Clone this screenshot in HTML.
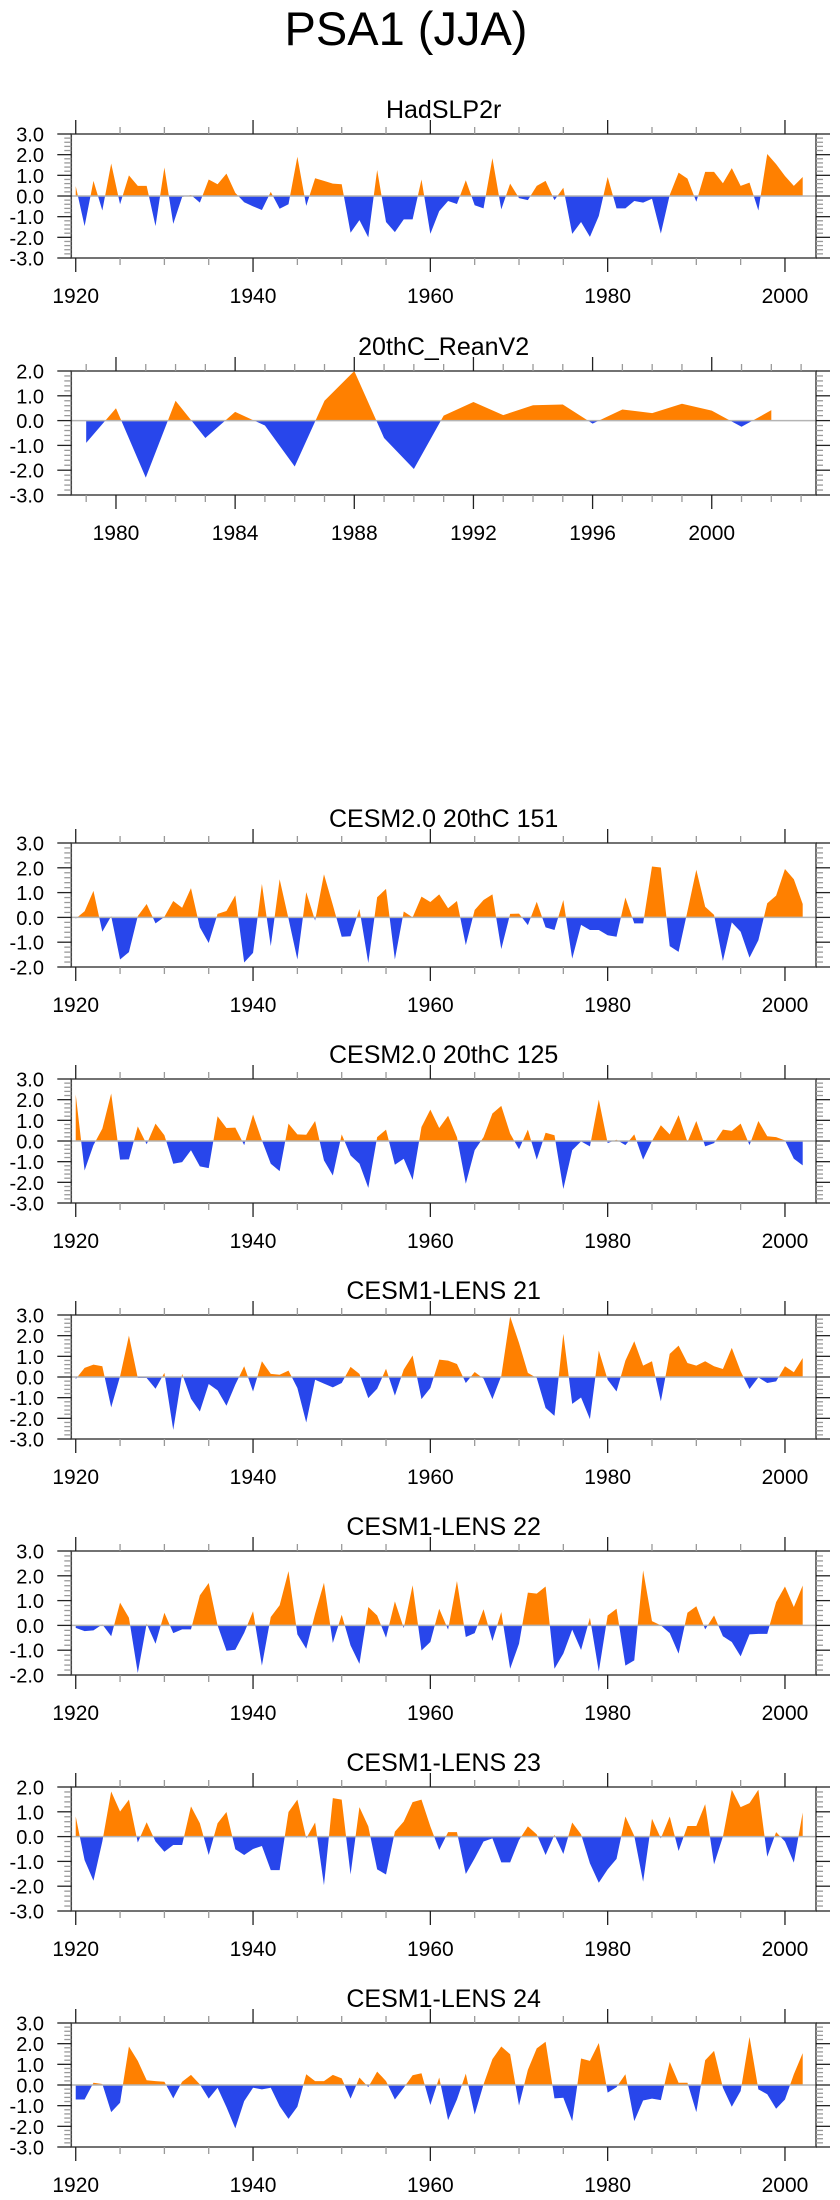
<!DOCTYPE html>
<html>
<head>
<meta charset="utf-8">
<style>
  html, body { margin: 0; padding: 0; background: #fff; }
  body { width: 840px; height: 2200px; overflow: hidden; }
  svg { display: block; }
  text { font-family: "Liberation Sans", sans-serif; fill: #000; }
</style>
</head>
<body>
<svg id="chart" width="840" height="2200" viewBox="0 0 840 2200" xmlns="http://www.w3.org/2000/svg">
  <rect x="0" y="0" width="840" height="2200" fill="#fff"/>
  <text x="406" y="45" font-size="47" text-anchor="middle">PSA1 (JJA)</text>
</svg>
<script>
// ---- categories ----
const yearsLong = [];
for (let y = 1920; y <= 2002; y++) yearsLong.push(y);
const yearsShort = [];
for (let y = 1979; y <= 2002; y++) yearsShort.push(y);

// ---- tick labels ----
const xLabelsLong = [1920, 1940, 1960, 1980, 2000];
const xLabelsShort = [1980, 1984, 1988, 1992, 1996, 2000];
const yTicks33 = [-3, -2, -1, 0, 1, 2, 3];
const yTicks32 = [-3, -2, -1, 0, 1, 2];
const yTicks23 = [-2, -1, 0, 1, 2, 3];

// ---- series values ----
const hadslp2r = [0.48,-1.46,0.73,-0.7,1.57,-0.4,1.0,0.49,0.49,-1.46,1.38,-1.35,-0.05,0.05,-0.32,0.8,0.57,1.08,0.15,-0.3,-0.5,-0.68,0.2,-0.62,-0.4,1.9,-0.48,0.86,0.73,0.6,0.57,-1.78,-1.17,-2.0,1.26,-1.26,-1.75,-1.13,-1.13,0.8,-1.83,-0.73,-0.24,-0.39,0.76,-0.45,-0.6,1.83,-0.65,0.6,-0.1,-0.2,0.49,0.73,-0.2,0.4,-1.83,-1.26,-1.98,-0.97,0.92,-0.6,-0.6,-0.24,-0.32,-0.13,-1.82,0.05,1.13,0.84,-0.28,1.17,1.17,0.62,1.35,0.49,0.65,-0.7,2.03,1.54,0.97,0.49,0.92];
const reanV2 = [-0.9,0.5,-2.3,0.8,-0.7,0.35,-0.2,-1.85,0.8,2.0,-0.7,-1.95,0.2,0.75,0.22,0.62,0.65,-0.12,0.45,0.3,0.68,0.4,-0.25,0.42];
const cesm2_151 = [-0.05,0.25,1.07,-0.58,0.05,-1.7,-1.4,0.05,0.54,-0.24,0.02,0.66,0.39,1.18,-0.4,-1.03,0.14,0.26,0.89,-1.82,-1.43,1.35,-1.16,1.54,-0.05,-1.7,1.02,-0.13,1.74,0.5,-0.78,-0.76,0.34,-1.84,0.81,1.15,-1.7,0.24,0.0,0.84,0.62,0.93,0.37,0.66,-1.12,0.3,0.7,0.93,-1.28,0.14,0.15,-0.31,0.63,-0.4,-0.51,0.7,-1.66,-0.3,-0.51,-0.51,-0.72,-0.78,0.8,-0.24,-0.24,2.05,2.01,-1.16,-1.39,0.25,1.92,0.43,0.1,-1.76,-0.2,-0.58,-1.62,-0.92,0.57,0.88,1.95,1.54,0.54];
const cesm2_125 = [2.25,-1.43,-0.2,0.6,2.3,-0.9,-0.89,0.71,-0.16,0.84,0.28,-1.1,-1.02,-0.45,-1.23,-1.31,1.2,0.63,0.65,-0.2,1.28,0.03,-1.1,-1.46,0.84,0.32,0.3,0.97,-0.94,-1.67,0.32,-0.7,-1.1,-2.27,0.19,0.55,-1.15,-0.86,-1.88,0.68,1.52,0.63,1.22,0.19,-2.07,-0.45,0.19,1.33,1.7,0.36,-0.4,0.55,-0.9,0.4,0.28,-2.32,-0.45,-0.02,-0.26,2.0,-0.1,0.06,-0.2,0.32,-0.9,0.0,0.76,0.32,1.25,-0.05,0.97,-0.26,-0.1,0.55,0.49,0.84,-0.2,0.97,0.23,0.19,0.03,-0.86,-1.18];
const lens21 = [-0.1,0.44,0.6,0.52,-1.47,0.03,2.0,-0.05,-0.05,-0.57,0.2,-2.56,0.15,-1.05,-1.67,-0.34,-0.65,-1.39,-0.37,0.52,-0.7,0.76,0.15,0.11,0.31,-0.53,-2.2,-0.13,-0.32,-0.5,-0.29,0.49,0.15,-1.02,-0.57,0.4,-0.9,0.36,1.04,-1.07,-0.53,0.84,0.79,0.63,-0.29,0.24,-0.08,-1.07,0.05,2.93,1.65,0.2,-0.05,-1.5,-1.88,2.09,-1.3,-0.99,-2.04,1.28,-0.13,-0.7,0.79,1.73,0.55,0.76,-1.18,1.12,1.52,0.68,0.55,0.76,0.52,0.39,1.41,0.28,-0.58,-0.02,-0.29,-0.21,0.52,0.23,0.92];
const lens22 = [-0.1,-0.23,-0.2,0.04,-0.44,0.92,0.31,-1.92,0.07,-0.74,0.51,-0.31,-0.16,-0.16,1.21,1.71,0.0,-1.02,-0.98,-0.3,0.57,-1.62,0.34,0.81,2.19,-0.36,-0.94,0.47,1.72,-0.71,0.43,-0.81,-1.55,0.74,0.4,-0.5,0.97,-0.11,1.62,-1.01,-0.67,0.67,-0.17,1.79,-0.47,-0.31,0.65,-0.63,0.54,-1.75,-0.74,1.32,1.28,1.57,-1.75,-1.14,-0.17,-0.99,0.31,-1.86,0.4,0.67,-1.62,-1.41,2.22,0.17,0.0,-0.31,-1.14,0.51,0.77,-0.16,0.4,-0.44,-0.67,-1.25,-0.36,-0.34,-0.34,0.94,1.57,0.74,1.61];
const lens23 = [0.81,-0.95,-1.78,-0.2,1.82,1.01,1.49,-0.24,0.58,-0.2,-0.61,-0.34,-0.34,1.22,0.54,-0.74,0.54,0.99,-0.51,-0.74,-0.5,-0.38,-1.35,-1.35,0.99,1.49,-0.07,0.57,-1.96,1.55,1.49,-1.53,1.19,0.41,-1.32,-1.53,0.2,0.61,1.39,1.49,0.41,-0.54,0.18,0.18,-1.51,-0.88,-0.2,-0.07,-1.04,-1.04,-0.14,0.41,0.09,-0.74,0.07,-0.7,0.57,0.09,-1.08,-1.86,-1.32,-0.9,0.81,0.03,-1.82,0.72,-0.07,0.81,-0.58,0.43,0.43,1.31,-1.12,0.0,1.89,1.19,1.35,1.89,-0.81,0.18,-0.2,-1.05,0.97];
const lens24 = [-0.7,-0.7,0.11,0.05,-1.31,-0.86,1.86,1.17,0.23,0.19,0.16,-0.65,0.16,0.49,0.03,-0.66,-0.13,-1.07,-2.1,-0.78,-0.13,-0.21,-0.13,-1.02,-1.64,-1.05,0.52,0.19,0.19,0.49,0.32,-0.66,0.36,-0.1,0.65,0.19,-0.7,-0.13,0.47,0.57,-0.97,0.36,-1.7,-0.7,0.55,-1.43,0.03,1.25,1.86,1.49,-0.99,0.73,1.77,2.09,-0.65,-0.62,-1.75,1.28,1.17,2.03,-0.37,-0.1,0.52,-1.75,-0.75,-0.66,-0.73,1.12,0.11,0.11,-1.31,1.2,1.65,-0.13,-1.05,-0.29,2.33,-0.21,-0.45,-1.15,-0.7,0.52,1.54];

const NS = "http://www.w3.org/2000/svg";
const svg = document.getElementById("chart");
const BOX_L = 71.3, BOX_R = 816, BOX_H = 124;
const ORANGE = "#ff8000", BLUE = "#2846eb";

function mk(tag, attrs, parent) {
  const e = document.createElementNS(NS, tag);
  for (const k in attrs) e.setAttribute(k, attrs[k]);
  (parent || svg).appendChild(e);
  return e;
}

function drawPanel(p, idx) {
  const g = mk("g", {});
  
  
  const top = p.top, bot = top + BOX_H;
  const xs = (yr) => BOX_L + (yr - p.x0) / (p.x1 - p.x0) * (BOX_R - BOX_L);
  const ys = (v) => top + (p.ymax - v) / (p.ymax - p.ymin) * BOX_H;
  const zy = ys(0);

  const t = mk("text", {x: (BOX_L + BOX_R) / 2, y: top - 16, "font-size": 25, "text-anchor": "middle"}, g);
  t.textContent = p.title;
  
  

  const defs = mk("defs", {}, g);
  const cpA = mk("clipPath", {id: "ca" + idx}, defs);
  mk("rect", {x: BOX_L, y: top, width: BOX_R - BOX_L, height: zy - top}, cpA);
  const cpB = mk("clipPath", {id: "cb" + idx}, defs);
  mk("rect", {x: BOX_L, y: zy, width: BOX_R - BOX_L, height: bot - zy}, cpB);

  let d = "";
  p.years.forEach((yr, i) => {
    d += (i === 0 ? "M" : "L") + xs(yr).toFixed(2) + "," + ys(p.values[i]).toFixed(2);
  });
  d += "L" + xs(p.years[p.years.length - 1]).toFixed(2) + "," + zy.toFixed(2);
  d += "L" + xs(p.years[0]).toFixed(2) + "," + zy.toFixed(2) + "Z";
  const pa = mk("path", {d: d, fill: ORANGE, "clip-path": "url(#ca" + idx + ")"}, g);
  
  
  const pb = mk("path", {d: d, fill: BLUE, "clip-path": "url(#cb" + idx + ")"}, g);
  
  

  const zl = mk("line", {x1: BOX_L, x2: BOX_R, y1: zy, y2: zy, stroke: "#b4b4b4", "stroke-width": 1.5}, g);
  
  

  const fr = mk("rect", {x: BOX_L, y: top, width: BOX_R - BOX_L, height: BOX_H, fill: "none", stroke: "#444", "stroke-width": 1.5}, g);
  
  

  for (let v = p.ymin; v <= p.ymax + 1e-6; v += 0.2) {
    const yy = ys(v);
    const major = Math.abs(v - Math.round(v)) < 1e-6;
    const len = major ? 14 : 7;
    const col = major ? "#222" : "#999";
    mk("line", {x1: BOX_L - len, x2: BOX_L, y1: yy, y2: yy, stroke: col, "stroke-width": 1.3}, g);
    mk("line", {x1: BOX_R, x2: BOX_R + len, y1: yy, y2: yy, stroke: col, "stroke-width": 1.3}, g);
  }
  p.yTicks.forEach(v => {
    const lt = mk("text", {x: 44, y: ys(v) + 7.5, "font-size": 20, "text-anchor": "end"}, g);
    lt.textContent = v.toFixed(1);
    
    
  });

  for (let yr = p.minorStart; yr <= p.x1; yr += p.minorStep) {
    if (yr < p.x0) continue;
    const xx = xs(yr);
    const major = p.xLabels.indexOf(yr) >= 0;
    const len = major ? 14 : 7;
    const col = major ? "#222" : "#999";
    mk("line", {x1: xx, x2: xx, y1: top - len, y2: top, stroke: col, "stroke-width": 1.3}, g);
    mk("line", {x1: xx, x2: xx, y1: bot, y2: bot + len, stroke: col, "stroke-width": 1.3}, g);
  }
  p.xLabels.forEach(yr => {
    const xt = mk("text", {x: xs(yr), y: bot + 45, "font-size": 21, "text-anchor": "middle"}, g);
    xt.textContent = String(yr);
    
    
  });
}

const panels = [
  {name: "hadslp2r", title: "HadSLP2r", top: 134, ymin: -3, ymax: 3, yTicks: yTicks33, years: yearsLong, values: hadslp2r, x0: 1919.5, x1: 2003.5, xLabels: xLabelsLong, minorStart: 1920, minorStep: 5},
  {name: "20thc-reanv2", title: "20thC_ReanV2", top: 371, ymin: -3, ymax: 2, yTicks: yTicks32, years: yearsShort, values: reanV2, x0: 1978.5, x1: 2003.5, xLabels: xLabelsShort, minorStart: 1979, minorStep: 1},
  {name: "cesm2-151", title: "CESM2.0 20thC 151", top: 843, ymin: -2, ymax: 3, yTicks: yTicks23, years: yearsLong, values: cesm2_151, x0: 1919.5, x1: 2003.5, xLabels: xLabelsLong, minorStart: 1920, minorStep: 5},
  {name: "cesm2-125", title: "CESM2.0 20thC 125", top: 1079, ymin: -3, ymax: 3, yTicks: yTicks33, years: yearsLong, values: cesm2_125, x0: 1919.5, x1: 2003.5, xLabels: xLabelsLong, minorStart: 1920, minorStep: 5},
  {name: "cesm1-lens-21", title: "CESM1-LENS 21", top: 1315, ymin: -3, ymax: 3, yTicks: yTicks33, years: yearsLong, values: lens21, x0: 1919.5, x1: 2003.5, xLabels: xLabelsLong, minorStart: 1920, minorStep: 5},
  {name: "cesm1-lens-22", title: "CESM1-LENS 22", top: 1551, ymin: -2, ymax: 3, yTicks: yTicks23, years: yearsLong, values: lens22, x0: 1919.5, x1: 2003.5, xLabels: xLabelsLong, minorStart: 1920, minorStep: 5},
  {name: "cesm1-lens-23", title: "CESM1-LENS 23", top: 1787, ymin: -3, ymax: 2, yTicks: yTicks32, years: yearsLong, values: lens23, x0: 1919.5, x1: 2003.5, xLabels: xLabelsLong, minorStart: 1920, minorStep: 5},
  {name: "cesm1-lens-24", title: "CESM1-LENS 24", top: 2023, ymin: -3, ymax: 3, yTicks: yTicks33, years: yearsLong, values: lens24, x0: 1919.5, x1: 2003.5, xLabels: xLabelsLong, minorStart: 1920, minorStep: 5}
];
panels.forEach(drawPanel);
</script>
</body>
</html>
